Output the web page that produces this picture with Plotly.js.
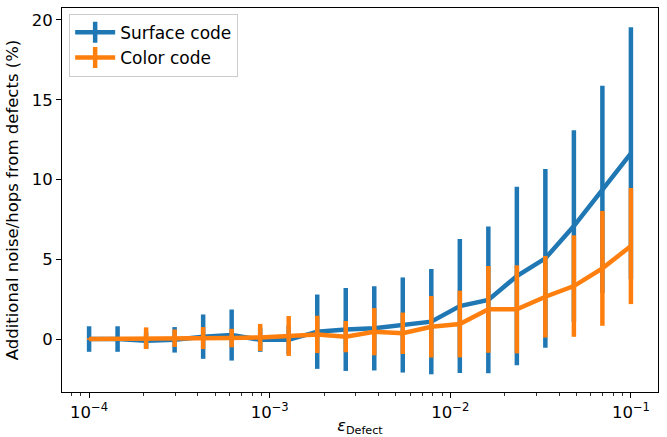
<!DOCTYPE html>
<html><head><meta charset="utf-8">
<script src="https://cdn.plot.ly/plotly-3.0.1.min.js"></script>
<style>html,body{margin:0;padding:0;background:#fff}#chart{width:667px;height:437px}</style>
</head><body><div id="chart"></div>
<script>
const epsDefect = [1.000e-4,1.438e-4,2.069e-4,2.976e-4,4.281e-4,6.158e-4,8.859e-4,1.274e-3,1.833e-3,2.637e-3,3.793e-3,5.456e-3,7.848e-3,1.129e-2,1.624e-2,2.336e-2,3.360e-2,4.833e-2,6.952e-2,1.000e-1];
const surfaceMean = [0,0,-0.1,-0.05,0.15,0.25,-0.05,-0.05,0.46,0.6,0.67,0.88,1.09,2.07,2.45,3.95,5.06,7.08,9.38,11.64];
const surfaceErr  = [0.8,0.8,0.5,0.8,1.39,1.6,0.75,0.9,2.33,2.6,2.64,2.98,3.3,4.2,4.6,5.6,5.6,6.0,6.5,7.9];
const colorMean = [0,0,0.05,0.05,0.06,0.06,0.1,0.19,0.29,0.15,0.46,0.36,0.77,0.94,1.86,1.86,2.65,3.32,4.43,5.83];
const colorErr  = [0.05,0.05,0.68,0.55,0.69,0.58,0.85,1.25,1.17,0.98,1.48,1.3,1.93,2.09,2.72,2.76,2.56,3.18,3.6,3.64];
const seriesNames = ['Surface code','Color code'];
const xTickVals = [1e-4,1e-3,1e-2,1e-1];
const xTickText = ['10<sup>−4</sup>','10<sup>−3</sup>','10<sup>−2</sup>','10<sup>−1</sup>'];
const yTickVals = [0,5,10,15,20];
const blue = '#1f77b4', orange = '#ff7f0e';

const minorVals = [];
for (let e = -5; e <= -1; e++) for (let m = 2; m <= 9; m++) minorVals.push(m * Math.pow(10, e));

function mk(y, err, color){
  return {x: epsDefect, y: y, type:'scatter', mode:'lines', showlegend:false,
    line:{color:color, width:4.5},
    error_y:{type:'data', array:err, visible:true, color:color, thickness:4.5, width:0}};
}
function leg(name, color){
  return {x:[null], y:[null], type:'scatter', mode:'lines+markers', name:name,
    line:{color:color, width:4.5},
    marker:{symbol:'line-ns', size:15, color:color, line:{color:color, width:4.5}}};
}
const data = [mk(surfaceMean, surfaceErr, blue), mk(colorMean, colorErr, orange),
  leg(seriesNames[0], blue), leg(seriesNames[1], orange),
  {x:[null], y:[null], xaxis:'x2', yaxis:'y', type:'scatter', showlegend:false, hoverinfo:'skip'}];
const axisFont = {family:'DejaVu Sans', size:16.5, color:'#000'};
const xRange = [-4.15,-0.85];
const layout = {
  width:667, height:437,
  margin:{l:62, r:9, t:8, b:45},
  paper_bgcolor:'#fff', plot_bgcolor:'#fff',
  font:{family:'DejaVu Sans', color:'#000'},
  xaxis:{type:'log', range:xRange, showgrid:false, zeroline:false,
    showline:true, mirror:true, linecolor:'#000', linewidth:1,
    ticks:'outside', ticklen:5, tickcolor:'#000',
    tickmode:'array', tickvals:xTickVals, ticktext:xTickText,
    tickfont:axisFont,
    title:{text:'<i>ε</i><sub>Defect</sub>', font:{family:'DejaVu Sans', size:16}, standoff:2}},
  xaxis2:{type:'log', range:xRange, overlaying:'x', side:'bottom', anchor:'y',
    showgrid:false, zeroline:false, showline:false,
    ticks:'outside', ticklen:3, tickcolor:'#000', tickwidth:0.8,
    tickmode:'array', tickvals:minorVals, showticklabels:false},
  yaxis:{range:[-3.32,20.75], showgrid:false, zeroline:false,
    showline:true, mirror:true, linecolor:'#000', linewidth:1,
    ticks:'outside', ticklen:5, tickcolor:'#000',
    tickmode:'array', tickvals:yTickVals, tickfont:axisFont,
    title:{text:'Additional noise/hops from defects (%)', font:{family:'DejaVu Sans', size:16.5}, standoff:8}},
  legend:{x:0.012, y:0.985, xanchor:'left', yanchor:'top',
    bgcolor:'rgba(255,255,255,0.8)', bordercolor:'#ccc', borderwidth:1,
    font:{family:'DejaVu Sans', size:17}, tracegroupgap:0, itemwidth:40}
};
Plotly.newPlot('chart', data, layout, {staticPlot:true});
</script></body></html>
